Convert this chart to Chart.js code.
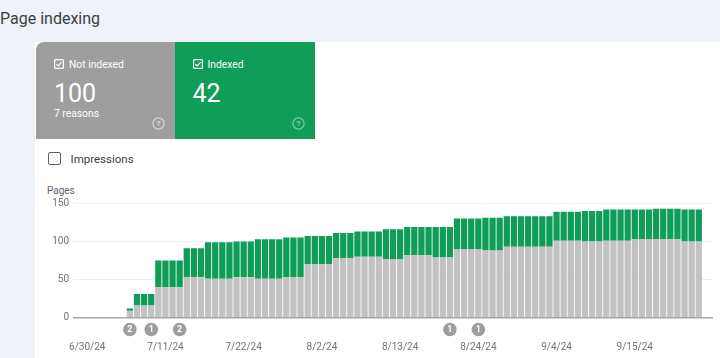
<!DOCTYPE html>
<html>
<head>
<meta charset="utf-8">
<script src="https://cdn.jsdelivr.net/npm/chart.js@4.4.1/dist/chart.umd.min.js"></script>
<style>
  html, body { margin: 0; padding: 0; }
  body {
    width: 720px; height: 358px; overflow: hidden; position: relative;
    background: #eff2f8; font-family: Roboto, "Noto Sans", sans-serif;
  }
  .abs { position: absolute; white-space: nowrap; }
  .title { left: 0; top: 9px; font-size: 16px; line-height: 20px; color: #3c4043; }
  .panel { left: 35px; top: 42px; right: 0; bottom: 0; background: #fff; }
  .card { top: 42px; height: 97px; color: #fff; }
  .card.gray { left: 36px; width: 138.5px; background: #9e9e9e; border-top-left-radius: 8px; }
  .card.green { left: 174.5px; width: 140px; background: #0f9d58; }
  .card .lbl { left: 18px; top: 17px; font-size: 10.3px; line-height: 12px; }
  .card .lbl svg { vertical-align: -1px; margin-right: 5px; }
  .card .num { left: 18px; top: 38.5px; font-size: 25px; line-height: 25px; }
  .card .sub { left: 18px; top: 65.5px; font-size: 10.3px; line-height: 12px; }
  .card .help { left: 116px; top: 74.5px; }
  .imp-box { left: 48px; top: 152px; width: 11px; height: 11px; border: 1.6px solid #5f6368; border-radius: 2px; }
  .imp { left: 70.5px; top: 152px; font-size: 11.5px; line-height: 14px; color: #3c4043; }
  .pages { left: 47px; top: 185px; font-size: 10px; line-height: 12px; color: #5f6368; }
  #wrap { position: absolute; left: 35px; top: 180px; width: 685px; height: 178px; }
</style>
</head>
<body>
<div class="abs title">Page indexing</div>
<div class="abs panel"></div>

<div class="abs card gray">
  <div class="abs lbl"><svg width="10" height="10" viewBox="0 0 10 10"><rect x="0.6" y="0.6" width="8.8" height="8.8" rx="1" fill="none" stroke="#fff" stroke-width="1.2"/><path d="M2.4 5.1 L4.2 6.9 L7.6 3.2" fill="none" stroke="#fff" stroke-width="1.2"/></svg>Not indexed</div>
  <div class="abs num">100</div>
  <div class="abs sub">7 reasons</div>
  <svg class="abs help" width="13" height="13" viewBox="0 0 13 13"><circle cx="6.5" cy="6.5" r="5.6" fill="none" stroke="rgba(255,255,255,0.55)" stroke-width="1.2"/><text x="6.5" y="9.4" text-anchor="middle" font-size="8" font-family="Roboto" font-weight="bold" fill="rgba(255,255,255,0.6)">?</text></svg>
</div>

<div class="abs card green">
  <div class="abs lbl"><svg width="10" height="10" viewBox="0 0 10 10"><rect x="0.6" y="0.6" width="8.8" height="8.8" rx="1" fill="none" stroke="#fff" stroke-width="1.2"/><path d="M2.4 5.1 L4.2 6.9 L7.6 3.2" fill="none" stroke="#fff" stroke-width="1.2"/></svg>Indexed</div>
  <div class="abs num">42</div>
  <svg class="abs help" width="13" height="13" viewBox="0 0 13 13" style="left:117.5px"><circle cx="6.5" cy="6.5" r="5.6" fill="none" stroke="rgba(255,255,255,0.45)" stroke-width="1.2"/><text x="6.5" y="9.4" text-anchor="middle" font-size="8" font-family="Roboto" font-weight="bold" fill="rgba(255,255,255,0.5)">?</text></svg>
</div>

<div class="abs imp-box"></div>
<div class="abs imp">Impressions</div>
<div class="abs pages">Pages</div>

<div id="wrap"><canvas id="pageChart"></canvas></div>

<script>
// one category per day, 6/28/24 .. 9/26/24
const days = [];
for (let d = new Date(2024, 5, 28); days.length < 91; d.setDate(d.getDate() + 1)) {
  days.push(`${d.getMonth() + 1}/${d.getDate()}/24`);
}

const tickLabels = ['6/30/24', '7/11/24', '7/22/24', '8/2/24', '8/13/24', '8/24/24', '9/4/24', '9/15/24'];

const notIndexed = [
  0, 0, 0, 0, 0, 0, 0, 0,
  9,
  16, 16, 16,
  40, 40, 40, 40,
  53, 53, 53,
  51, 51, 51, 51,
  53, 53, 53,
  51, 51, 51, 51,
  53, 53, 53,
  70, 70, 70, 70,
  78, 78, 78,
  80, 80, 80, 80,
  77, 77, 77,
  82, 82, 82, 82,
  79, 79, 79,
  90, 90, 90, 90,
  88, 88, 88,
  93, 93, 93, 93, 93, 93, 93,
  101, 101, 101, 101,
  100, 100, 100,
  101, 101, 101, 101,
  103, 103, 103,
  103, 103, 103, 103,
  100, 100, 100,
  null, null,
];

const indexed = [
  0, 0, 0, 0, 0, 0, 0, 0,
  3,
  15, 15, 15,
  35, 35, 35, 35,
  38, 38, 38,
  48, 48, 48, 48,
  47, 47, 47,
  52, 52, 52, 52,
  52, 52, 52,
  37, 37, 37, 37,
  33, 33, 33,
  33, 33, 33, 33,
  39, 39, 39,
  37, 37, 37, 37,
  40, 40, 40,
  40, 40, 40, 40,
  43, 43, 43,
  40, 40, 40, 40, 40, 40, 40,
  38, 38, 38, 38,
  40, 40, 40,
  41, 41, 41, 41,
  39, 39, 39,
  40, 40, 40, 40,
  42, 42, 42,
  null, null,
];

// annotation markers under the axis
const noteDays = ['7/6/24', '7/9/24', '7/13/24', '8/20/24', '8/24/24'];
const noteCounts = [2, 1, 2, 1, 1];

const notesPlugin = {
  id: 'notes',
  afterDraw(chart) {
    const { ctx, scales: { x } } = chart;
    const y = chart.chartArea.bottom + 11.8;
    ctx.save();
    noteDays.forEach((day, i) => {
      const px = x.getPixelForValue(days.indexOf(day));
      ctx.beginPath();
      ctx.arc(px, y, 6.8, 0, Math.PI * 2);
      ctx.fillStyle = '#9e9e9e';
      ctx.fill();
      ctx.fillStyle = '#fff';
      ctx.font = 'bold 9px Roboto';
      ctx.textAlign = 'center';
      ctx.textBaseline = 'middle';
      ctx.fillText(String(noteCounts[i]), px, y + 0.5);
    });
    ctx.restore();
  },
};

const ctx = document.getElementById('pageChart');

new Chart(ctx, {
  type: 'bar',
  data: {
    labels: days,
    datasets: [
      {
        label: 'Not indexed',
        data: notIndexed,
        backgroundColor: '#c2c2c2',
        barPercentage: 0.88,
        categoryPercentage: 1,
      },
      {
        label: 'Indexed',
        data: indexed,
        backgroundColor: '#0f9d58',
        barPercentage: 0.88,
        categoryPercentage: 1,
      },
    ],
  },
  options: {
    responsive: true,
    maintainAspectRatio: false,
    animation: false,
    layout: { padding: { top: 23.3, right: 7, left: 0, bottom: 0 } },
    plugins: {
      legend: { display: false },
      tooltip: { enabled: false },
    },
    scales: {
      x: {
        stacked: true,
        offset: false,
        // ticks are invisible, only used to push the labels down
        grid: { drawOnChartArea: false, drawTicks: true, tickLength: 23.5, tickColor: 'rgba(0,0,0,0)' },
        border: { display: false },
        ticks: {
          autoSkip: false,
          maxRotation: 0,
          minRotation: 0,
          padding: 0,
          color: '#70757a',
          font: { family: 'Roboto', size: 10 },
          callback: (value, i) => (tickLabels.includes(days[i]) ? days[i] : ''),
        },
        afterFit: (scale) => { scale.height = 40.3; },
      },
      y: {
        stacked: true,
        min: 0,
        max: 150,
        border: { display: false },
        grid: {
          drawTicks: false,
          color: (c) => (c.tick.value === 0 ? '#a6a6a6' : '#eeeeee'),
          lineWidth: (c) => (c.tick.value === 0 ? 1.5 : 1),
        },
        ticks: {
          stepSize: 50,
          padding: 4,
          color: '#757575',
          font: { family: 'Roboto', size: 10 },
        },
        afterFit: (scale) => { scale.width = 38; },
      },
    },
  },
  plugins: [notesPlugin],
});
</script>
</body>
</html>
